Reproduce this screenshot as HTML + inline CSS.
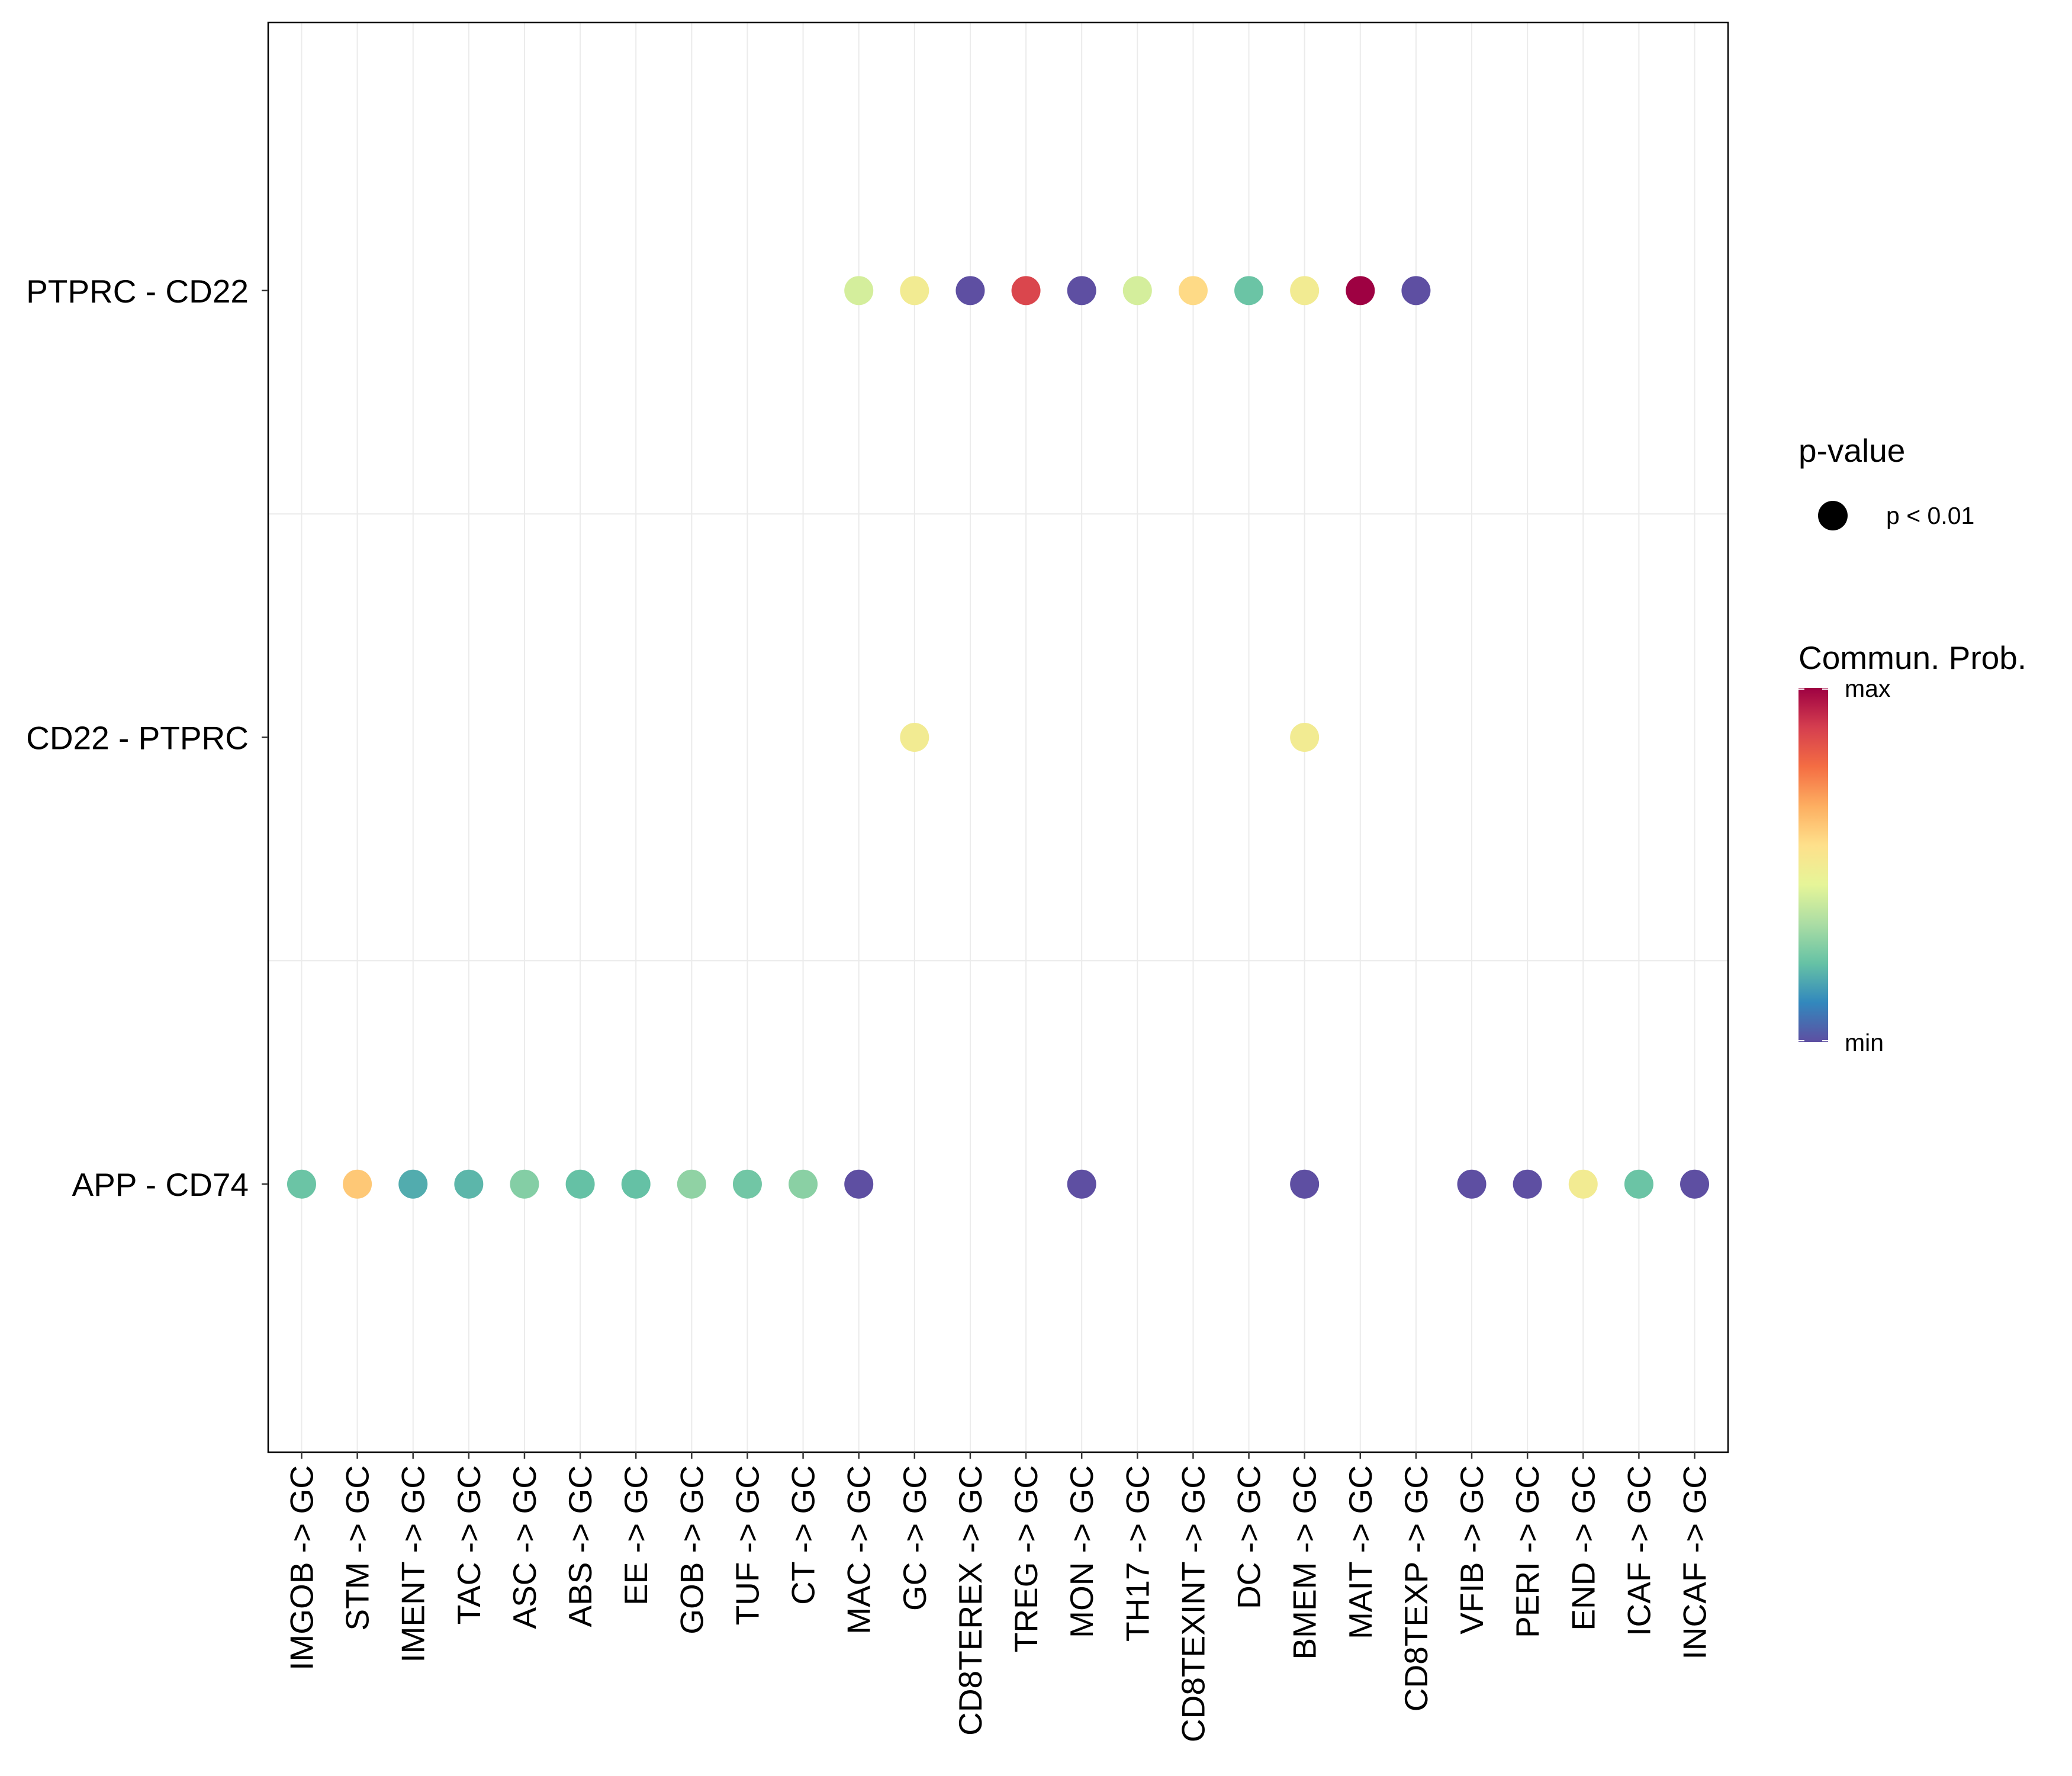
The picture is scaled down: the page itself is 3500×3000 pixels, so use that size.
<!DOCTYPE html>
<html><head><meta charset="utf-8"><style>
html,body{margin:0;padding:0;background:#fff;}
svg{display:block;font-family:"Liberation Sans",sans-serif;}
</style></head><body>
<svg id="chart" width="3500" height="3000" viewBox="0 0 3500 3000" xmlns="http://www.w3.org/2000/svg">
<rect width="3500" height="3000" fill="#fff"/>
<g id="grid"></g>
<g id="points"></g>
<rect x="453" y="38" width="2466" height="2415" fill="none" stroke="#000" stroke-width="2.5"/>
<g id="xaxis"></g>
<g id="yaxis"></g>
<g>
<text x="3038" y="780" font-size="55">p-value</text>
<circle cx="3096" cy="871" r="25" fill="#000"/>
<text x="3186" y="885" font-size="41">p &lt; 0.01</text>
</g>
<g>
<text x="3038" y="1130" font-size="55">Commun. Prob.</text>
<defs><linearGradient id="grad" x1="0" y1="1" x2="0" y2="0">
<stop offset="0" stop-color="#5E4FA2"/><stop offset="0.1111" stop-color="#3288BD"/><stop offset="0.2222" stop-color="#66C2A5"/><stop offset="0.3333" stop-color="#ABDDA4"/><stop offset="0.4444" stop-color="#E6F598"/><stop offset="0.5556" stop-color="#FEE08B"/><stop offset="0.6667" stop-color="#FDAE61"/><stop offset="0.7778" stop-color="#F46D43"/><stop offset="0.8889" stop-color="#D53E4F"/><stop offset="1" stop-color="#9E0142"/>
</linearGradient></defs>
<rect x="3038" y="1162" width="50" height="598" fill="url(#grad)"/>
<line x1="3038" x2="3048" y1="1164" y2="1164" stroke="#fff" stroke-width="2"/>
<line x1="3078" x2="3088" y1="1164" y2="1164" stroke="#fff" stroke-width="2"/>
<line x1="3038" x2="3048" y1="1758" y2="1758" stroke="#fff" stroke-width="2"/>
<line x1="3078" x2="3088" y1="1758" y2="1758" stroke="#fff" stroke-width="2"/>
<text x="3116" y="1177" font-size="41">max</text>
<text x="3116" y="1775" font-size="41">min</text>
</g>
</svg>
<script>
const categories=["IMGOB -> GC","STM -> GC","IMENT -> GC","TAC -> GC","ASC -> GC","ABS -> GC","EE -> GC","GOB -> GC","TUF -> GC","CT -> GC","MAC -> GC","GC -> GC","CD8TEREX -> GC","TREG -> GC","MON -> GC","TH17 -> GC","CD8TEXINT -> GC","DC -> GC","BMEM -> GC","MAIT -> GC","CD8TEXP -> GC","VFIB -> GC","PERI -> GC","END -> GC","ICAF -> GC","INCAF -> GC"];
const rows=["APP - CD74","CD22 - PTPRC","PTPRC - CD22"];
const ptprcCd22=[null,null,null,null,null,null,null,null,null,null,0.41,0.5,0,0.87,0,0.41,0.57,0.23,0.5,1,0,null,null,null,null,null];
const cd22Ptprc=[null,null,null,null,null,null,null,null,null,null,null,0.5,null,null,null,null,null,null,0.5,null,null,null,null,null,null,null];
const appCd74=[0.23,0.61,0.18,0.2,0.27,0.22,0.22,0.29,0.24,0.28,0,null,null,null,0,null,null,null,0,null,null,0,0,0.5,0.23,0];
const series=[appCd74,cd22Ptprc,ptprcCd22];
const L=453,R=2919,T=38,B=2453;
const xs=i=>L+(R-L)*(i+1-0.4)/(categories.length+0.2);
const ys=j=>B-(B-T)*(j+1-0.4)/(rows.length+0.2);
const stops=["#5E4FA2","#3288BD","#66C2A5","#ABDDA4","#E6F598","#FEE08B","#FDAE61","#F46D43","#D53E4F","#9E0142"];
function col(v){const p=v*9,i=Math.min(8,Math.floor(p)),f=p-i;const a=stops[i],b=stops[i+1];
const h=s=>[1,3,5].map(k=>parseInt(s.substr(k,2),16));const A=h(a),Bc=h(b);
return "rgb("+A.map((c,k)=>Math.round(c+(Bc[k]-c)*f)).join(",")+")";}
const NS="http://www.w3.org/2000/svg";
function mk(t,at,p){const e=document.createElementNS(NS,t);for(const k in at)e.setAttribute(k,at[k]);p.appendChild(e);return e;}
const grid=document.getElementById('grid'),pts=document.getElementById('points'),xa=document.getElementById('xaxis'),ya=document.getElementById('yaxis');
categories.forEach((c,i)=>{const x=xs(i);
const g=mk('line',{x1:x,x2:x,y1:T,y2:B,stroke:'#EBEBEB','stroke-width':2},grid);


const tk=mk('line',{x1:x,x2:x,y1:B,y2:B+11,stroke:'#333','stroke-width':2.5},xa);


const t=mk('text',{x:0,y:0,'font-size':55,'text-anchor':'end',transform:`translate(${x+19},${B+22}) rotate(-90)`},xa);
t.textContent=c;

});
rows.forEach((r,j)=>{const y=ys(j);
if(j<rows.length-1){const yy=(ys(j)+ys(j+1))/2;const g=mk('line',{x1:L,x2:R,y1:yy,y2:yy,stroke:'#EBEBEB','stroke-width':2},grid);

}
const tk=mk('line',{x1:L-11,x2:L,y1:y,y2:y,stroke:'#333','stroke-width':2.5},ya);


const t=mk('text',{x:L-33,y:y+20,'font-size':55,'text-anchor':'end'},ya);
t.textContent=r;


series[j].forEach((v,i)=>{if(v===null)return;
const c=mk('circle',{cx:xs(i),cy:y,r:24.5,fill:col(v)},pts);

});});
</script>
</body></html>
